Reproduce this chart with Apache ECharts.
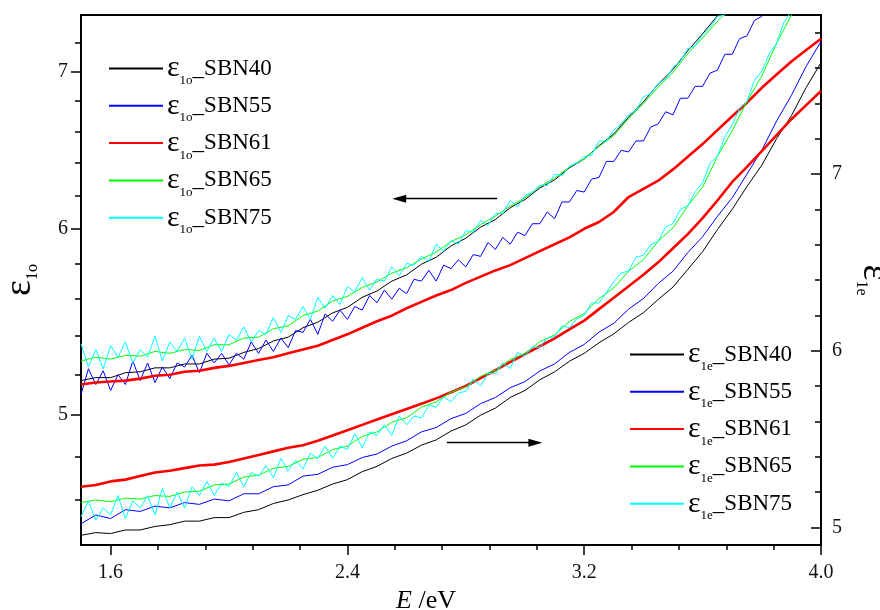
<!DOCTYPE html>
<html><head><meta charset="utf-8">
<script src="https://cdn.jsdelivr.net/npm/echarts@6/dist/echarts.min.js"></script>
<style>html,body{margin:0;padding:0;background:#fff}#c{width:880px;height:610px}</style>
</head><body><div id="c"></div><script>
// ---------- data ----------
const samples = ['SBN40','SBN55','SBN61','SBN65','SBN75'];
const colors  = ['#000000','#0000ff','#ff0000','#00ff00','#00ffff'];

const xMajor = [1.6,2.4,3.2,4.0];
const xMinor = [1.76,1.92,2.08,2.24,2.56,2.72,2.88,3.04,3.36,3.52,3.68,3.84];
const leftMajor = [5,6,7];
const leftMinor = [4.6,4.8,5.2,5.4,5.6,5.8,6.2,6.4,6.6,6.8,7.2];
const rightMajor = [5,6,7];
const rightMinor = [5.2,5.4,5.6,5.8,6.2,6.4,6.6,6.8,7.2,7.4,7.6,7.8];

const E = [1.50,1.55,1.60,1.65,1.70,1.75,1.80,1.85,1.90,1.95,2.00,2.05,2.10,2.15,2.20,2.25,2.30,2.35,2.40,2.45,2.50,2.55,2.60,2.65,2.70,2.75,2.80,2.85,2.90,2.95,3.00,3.05,3.10,3.15,3.20,3.25,3.30,3.35,3.40,3.45,3.50,3.55,3.60,3.65,3.70,3.75,3.80,3.85,3.90,3.95,4.00];
const EF = [1.500,1.525,1.550,1.575,1.600,1.625,1.650,1.675,1.700,1.725,1.750,1.775,1.800,1.825,1.850,1.875,1.900,1.925,1.950,1.975,2.000,2.025,2.050,2.075,2.100,2.125,2.150,2.175,2.200,2.225,2.250,2.275,2.300,2.325,2.350,2.375,2.400,2.425,2.450,2.475,2.500,2.525,2.550,2.575,2.600,2.625,2.650,2.675,2.700,2.725,2.750,2.775,2.800,2.825,2.850,2.875,2.900,2.925,2.950,2.975,3.000,3.025,3.050,3.075,3.100,3.125,3.150,3.175,3.200,3.225,3.250,3.275,3.300,3.325,3.350,3.375,3.400,3.425,3.450,3.475,3.500,3.525,3.550,3.575,3.600,3.625,3.650,3.675,3.700,3.725,3.750,3.775,3.800,3.825,3.850,3.875,3.900,3.925,3.950,3.975,4.000];

// eps_1o (left axis)
const eps1o_SBN40 = [5.17,5.185,5.185,5.21,5.215,5.235,5.235,5.255,5.255,5.28,5.285,5.315,5.335,5.375,5.395,5.445,5.475,5.525,5.555,5.61,5.645,5.70,5.735,5.795,5.835,5.90,5.945,6.01,6.055,6.125,6.175,6.245,6.295,6.37,6.425,6.51,6.585,6.695,6.795,6.915,7.015,7.145,7.265,7.395,7.5];
const eps1o_SBN55 = [5.10,5.23,5.15,5.22,5.12,5.20,5.15,5.27,5.17,5.26,5.16,5.24,5.18,5.26,5.24,5.30,5.21,5.31,5.26,5.31,5.25,5.31,5.28,5.37,5.31,5.38,5.32,5.39,5.34,5.43,5.42,5.49,5.41,5.52,5.48,5.54,5.49,5.56,5.54,5.62,5.58,5.65,5.60,5.66,5.63,5.71,5.70,5.76,5.70,5.79,5.77,5.82,5.78,5.85,5.84,5.92,5.88,5.95,5.91,5.98,5.96,6.03,6.03,6.10,6.06,6.16,6.16,6.23,6.22,6.30,6.31,6.41,6.41,6.48,6.47,6.54,6.54,6.63,6.65,6.73,6.71,6.82,6.82,6.90,6.90,6.99,7.01,7.12,7.12,7.23,7.25,7.36,7.39,7.50];
const eps1o_SBN61 = [5.15,5.16,5.165,5.17,5.18,5.195,5.20,5.215,5.22,5.235,5.245,5.26,5.275,5.29,5.31,5.33,5.35,5.38,5.41,5.445,5.48,5.51,5.55,5.585,5.62,5.65,5.69,5.725,5.76,5.79,5.83,5.87,5.91,5.95,6.0,6.04,6.1,6.19,6.24,6.29,6.36,6.44,6.52,6.61,6.70,6.79,6.89,6.98,7.07,7.15,7.23];
const eps1o_SBN65 = [5.27,5.29,5.28,5.30,5.295,5.32,5.31,5.33,5.325,5.355,5.355,5.39,5.395,5.44,5.455,5.51,5.535,5.59,5.615,5.665,5.695,5.745,5.775,5.825,5.865,5.925,5.965,6.025,6.075,6.135,6.185,6.255,6.305,6.375,6.425,6.505,6.575,6.685,6.785,6.895,6.995,7.125,7.235,7.355,7.46];
const eps1o_SBN75 = [5.36,5.24,5.33,5.23,5.35,5.29,5.37,5.26,5.33,5.29,5.40,5.27,5.37,5.32,5.39,5.28,5.40,5.32,5.39,5.32,5.41,5.38,5.45,5.37,5.43,5.41,5.50,5.42,5.51,5.49,5.56,5.49,5.61,5.55,5.62,5.57,5.67,5.64,5.72,5.65,5.71,5.70,5.78,5.73,5.80,5.79,5.84,5.81,5.91,5.87,5.93,5.91,5.99,5.98,6.05,6.02,6.09,6.09,6.17,6.13,6.20,6.22,6.26,6.26,6.33,6.32,6.38,6.40,6.44,6.45,6.54,6.54,6.61,6.65,6.71,6.74,6.83,6.85,6.92,6.95,7.03,7.07,7.16,7.18,7.26,7.31,7.39,7.40,7.49];

// eps_1e (right axis)
const eps1e_SBN40 = [4.955,4.97,4.965,4.985,4.985,5.005,5.015,5.035,5.035,5.055,5.055,5.085,5.10,5.135,5.155,5.185,5.21,5.245,5.27,5.315,5.345,5.39,5.42,5.465,5.495,5.545,5.58,5.635,5.675,5.735,5.775,5.835,5.88,5.94,5.985,6.045,6.095,6.16,6.215,6.29,6.36,6.46,6.56,6.685,6.80,6.93,7.05,7.20,7.33,7.49,7.63];
const eps1e_SBN55 = [5.02,5.07,5.05,5.10,5.09,5.12,5.11,5.14,5.13,5.16,5.15,5.19,5.19,5.23,5.24,5.29,5.30,5.34,5.355,5.395,5.415,5.46,5.49,5.54,5.565,5.615,5.645,5.70,5.735,5.79,5.825,5.885,5.925,5.99,6.035,6.105,6.155,6.235,6.295,6.38,6.45,6.555,6.645,6.76,6.865,7.0,7.135,7.30,7.445,7.61,7.75];
const eps1e_SBN61 = [5.23,5.24,5.26,5.27,5.29,5.31,5.32,5.335,5.35,5.355,5.37,5.39,5.41,5.43,5.45,5.465,5.49,5.52,5.55,5.58,5.61,5.64,5.67,5.70,5.73,5.765,5.80,5.845,5.89,5.935,5.98,6.025,6.07,6.12,6.17,6.235,6.30,6.365,6.43,6.50,6.58,6.66,6.75,6.85,6.955,7.04,7.13,7.22,7.31,7.39,7.47];
const eps1e_SBN65 = [5.14,5.155,5.145,5.165,5.16,5.18,5.175,5.20,5.205,5.24,5.245,5.285,5.295,5.335,5.345,5.385,5.395,5.44,5.46,5.515,5.54,5.595,5.62,5.68,5.71,5.765,5.795,5.855,5.89,5.95,5.985,6.05,6.09,6.165,6.21,6.295,6.355,6.45,6.515,6.62,6.695,6.82,6.925,7.10,7.245,7.41,7.555,7.74,7.90,8.05];
const eps1e_SBN75 = [5.06,5.15,5.04,5.11,5.07,5.18,5.05,5.15,5.11,5.18,5.07,5.22,5.11,5.20,5.11,5.23,5.18,5.26,5.18,5.25,5.23,5.31,5.23,5.31,5.29,5.35,5.28,5.39,5.32,5.38,5.33,5.42,5.39,5.46,5.39,5.46,5.44,5.53,5.45,5.54,5.52,5.58,5.52,5.63,5.58,5.63,5.62,5.69,5.68,5.74,5.71,5.76,5.77,5.84,5.80,5.87,5.87,5.93,5.90,5.99,5.97,6.02,6.02,6.07,6.08,6.14,6.13,6.18,6.20,6.27,6.27,6.33,6.39,6.44,6.45,6.53,6.54,6.60,6.62,6.70,6.72,6.80,6.82,6.90,6.95,7.06,7.10,7.21,7.28,7.37,7.41,7.53,7.58,7.68,7.74,7.86,7.92];

// annotation arrows [E, eps]
const arrowLeftFrom  = [2.906, 6.18], arrowLeftTo  = [2.575, 6.18];
const arrowRightFrom = [2.736, 5.479], arrowRightTo = [3.035, 5.479];

// ---------- chart ----------
const FONT = 'Liberation Serif';
const groups1o = [[E,eps1o_SBN40],[EF,eps1o_SBN55],[E,eps1o_SBN61],[E,eps1o_SBN65],[EF,eps1o_SBN75]];
const groups1e = [[E,eps1e_SBN40],[E,eps1e_SBN55],[E,eps1e_SBN61],[E,eps1e_SBN65],[EF,eps1e_SBN75]];
const pairs = (xs, ys) => ys.map((v, i) => [xs[i], v]);

const series = [];
function addSeries(tag, groups, yIdx, arrow) {
  groups.forEach((g, k) => {
    const s = {
      name: 'ε' + tag + '_' + samples[k],
      type: 'line', xAxisIndex: 0, yAxisIndex: yIdx,
      data: pairs(g[0], g[1]),
      symbol: 'none', showSymbol: false, clip: true,
      lineStyle: { color: colors[k], width: k === 2 ? 2.6 : 1 },
      itemStyle: { color: colors[k] },
      z: 2 + k
    };
    if (k === 0) {
      s.markLine = {
        silent: true, animation: false,
        symbol: ['none', 'triangle'], symbolSize: [8, 14],
        lineStyle: { color: '#000', width: 1.4, type: 'solid' },
        itemStyle: { color: '#000' },
        label: { show: false },
        data: [[{ coord: arrow[0] }, { coord: arrow[1] }]]
      };
    }
    series.push(s);
  });
}
addSeries('1o', groups1o, 0, [arrowLeftFrom, arrowLeftTo]);
addSeries('1e', groups1e, 2, [arrowRightFrom, arrowRightTo]);

const legendRich = {
  g: { fontFamily: FONT, fontSize: 30, lineHeight: 37, color: '#000' },
  s: { fontFamily: FONT, fontSize: 13, lineHeight: 13, padding: [24, 0, 0, 0], color: '#000' },
  t: { fontFamily: FONT, fontSize: 23, lineHeight: 37, color: '#000' }
};
const legendFmt = name => {
  const parts = name.split('_');
  return '{g|ε}{s|' + parts[0].slice(1) + '}{t|_' + parts[1] + '}';
};
function legendOf(tag, left, top) {
  return {
    data: samples.map(s => 'ε' + tag + '_' + s),
    orient: 'vertical', left: left, top: top, padding: 0,
    itemWidth: 54, itemHeight: 12, itemGap: 0.3,
    selectedMode: false, formatter: legendFmt,
    itemStyle: { color: 'transparent', borderColor: 'transparent', borderWidth: 0 },
    textStyle: { rich: legendRich, padding: [0, 0, 0, -1] }
  };
}

const axisLine = { show: true, onZero: false, lineStyle: { color: '#000', width: 2 } };
const tickStyle = { color: '#000', width: 1.5 };
const labelStyle = { fontFamily: FONT, fontSize: 20, color: '#111' };

const nameRich = {
  g: { fontFamily: FONT, fontSize: 38, lineHeight: 42, color: '#000' },
  s: { fontFamily: FONT, fontSize: 16, lineHeight: 16, padding: [26, 0, 0, 0], color: '#000' }
};

const option = {
  animation: false,
  backgroundColor: '#fff',
  textStyle: { fontFamily: FONT },
  grid: { left: 81, right: 59, top: 15, bottom: 65, containLabel: false, outerBoundsMode: 'none',
          show: true, borderColor: '#000', borderWidth: 2, backgroundColor: 'transparent' },
  legend: [legendOf('1o', 108, 50), legendOf('1e', 629, 336)],
  xAxis: [
    { type: 'value', min: 1.5, max: 4.0, position: 'bottom',
      axisLine: axisLine,
      axisTick: { show: true, customValues: xMajor, length: 10, lineStyle: tickStyle },
      axisLabel: Object.assign({ customValues: xMajor, formatter: v => v.toFixed(1), margin: 18 }, labelStyle),
      splitLine: { show: false },
      name: '{i|E}{t| /eV}', nameLocation: 'middle', nameGap: 38,
      nameTextStyle: { padding: [0, 50, 0, 0], rich: {
        i: { fontFamily: FONT, fontSize: 26, fontStyle: 'italic', color: '#000' },
        t: { fontFamily: FONT, fontSize: 26, color: '#000' } } } },
    { type: 'value', min: 1.5, max: 4.0, position: 'bottom',
      axisLine: { show: false, onZero: false },
      axisTick: { show: true, customValues: xMinor, length: 5, lineStyle: tickStyle },
      axisLabel: { show: false }, splitLine: { show: false } }
  ],
  yAxis: [
    { type: 'log', logBase: 10, min: 4.4, max: 7.4, position: 'left',
      axisLine: axisLine,
      axisTick: { show: true, customValues: leftMajor, length: 10, lineStyle: tickStyle },
      axisLabel: Object.assign({ customValues: leftMajor, margin: 13 }, labelStyle),
      splitLine: { show: false }, minorTick: { show: false },
      name: '{g|ε}{s|1o}', nameLocation: 'middle', nameGap: 40, nameRotate: 90,
      nameTextStyle: { rich: nameRich } },
    { type: 'log', logBase: 10, min: 4.4, max: 7.4, position: 'left',
      axisLine: { show: false },
      axisTick: { show: true, customValues: leftMinor, length: 6, lineStyle: tickStyle },
      axisLabel: { show: false }, splitLine: { show: false } },
    { type: 'value', min: 4.9, max: 7.9, position: 'right',
      axisLine: axisLine,
      axisTick: { show: true, inside: true, customValues: rightMajor, length: 10, lineStyle: tickStyle },
      axisLabel: Object.assign({ customValues: rightMajor, margin: 11 }, labelStyle),
      splitLine: { show: false },
      name: '{g|ε}{s|1e}', nameLocation: 'middle', nameGap: 22, nameRotate: -90,
      nameTextStyle: { rich: nameRich } },
    { type: 'value', min: 4.9, max: 7.9, position: 'right',
      axisLine: { show: false },
      axisTick: { show: true, inside: true, customValues: rightMinor, length: 6, lineStyle: tickStyle },
      axisLabel: { show: false }, splitLine: { show: false } }
  ],
  series: series
};

const chart = echarts.init(document.getElementById('c'), null, { renderer: 'canvas' });
chart.setOption(option);
</script></body></html>
